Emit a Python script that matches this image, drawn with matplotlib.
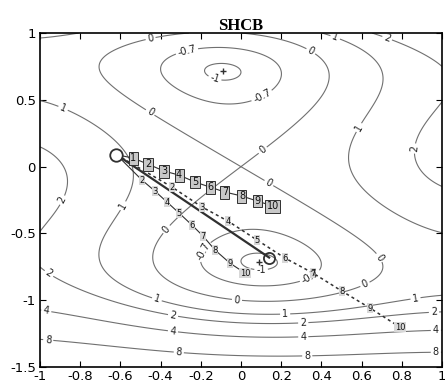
import numpy as np
from matplotlib import pyplot as plt

# contour levels and where their labels sit
levels = [-1, -0.7, 0, 1, 2, 4, 8]
label_pos = [(-0.45, 0.96), (-0.27, 0.87), (-0.13, 0.66), (0.35, 0.87), (0.46, 0.93),
             (0.72, 0.93), (0.10, 0.54), (-0.89, 0.42), (-0.45, 0.41), (0.11, 0.12),
             (0.14, -0.12), (0.59, 0.29), (0.84, 0.14), (-0.89, -0.25), (-0.59, -0.29),
             (-0.37, -0.47), (0.69, -0.68), (0.62, -0.89), (-0.02, -1.0), (0.22, -1.11),
             (0.31, -1.17), (0.87, -1.0), (0.96, -1.07), (0.31, -1.27), (0.97, -1.22),
             (-0.96, -0.81), (-0.42, -1.0), (-0.97, -1.09), (-0.34, -1.13), (-0.34, -1.25),
             (-0.96, -1.31), (-0.31, -1.40), (0.33, -1.43), (0.97, -1.39), (0.10, -0.76),
             (-0.19, -0.63), (0.33, -0.78)]

# start point and minima
start = (-0.62, 0.09)
end_pt = (0.14, -0.68)
minima_x = [-0.0898, 0.0898]
minima_y = [0.7126, -0.7126]

# numbered runs
sq_x = [-0.537, -0.463, -0.383, -0.308, -0.229, -0.154, -0.080, 0.005, 0.080, 0.159]
sq_y = [0.064, 0.019, -0.033, -0.063, -0.115, -0.153, -0.190, -0.220, -0.257, -0.295]
st_x = [-0.493, -0.428, -0.368, -0.308, -0.244, -0.189, -0.129, -0.055, 0.020]
st_y = [-0.100, -0.183, -0.265, -0.347, -0.437, -0.519, -0.624, -0.722, -0.796]
da_x = [-0.343, -0.194, -0.065, 0.080, 0.219, 0.358, 0.502, 0.642, 0.791]
da_y = [-0.153, -0.302, -0.407, -0.549, -0.684, -0.796, -0.931, -1.058, -1.201]


def shcb(x, y):
    return (4 - 2.1 * x**2 + x**4 / 3) * x**2 + x * y + (-4 + 4 * y**2) * y**2


fig = plt.figure(figsize=(4.45, 3.84), dpi=100)
ax = fig.add_axes([0.09, 0.044, 0.903, 0.87])

gx, gy = np.meshgrid(np.linspace(-1, 1, 401), np.linspace(-1.5, 1, 501))
cs = ax.contour(gx, gy, shcb(gx, gy), levels=levels, colors='#707070', linewidths=0.8,
                negative_linestyles='solid')
ax.clabel(cs, fmt='%g', fontsize=7, inline=True, inline_spacing=2, manual=label_pos,
          colors='#202020')

box_big = dict(boxstyle='square,pad=0.15', fc='#c8c8c8', ec='#303030', lw=0.7)
box_small = dict(boxstyle='square,pad=0.05', fc='#d8d8d8', ec='none')

# thick straight run to the minimum
ax.plot([start[0], end_pt[0]], [start[1], end_pt[1]], color='#303030', lw=1.6)
# dashed run
ax.plot([start[0]] + da_x, [start[1]] + da_y, color='#303030', lw=1.1, ls=(0, (2, 2)))
# steep run
ax.plot([start[0]] + st_x, [start[1]] + st_y, color='#303030', lw=0.8)
# squares run
ax.plot([start[0]] + sq_x, [start[1]] + sq_y, color='#303030', lw=0.8)

for i in range(len(sq_x)):
    ax.text(sq_x[i], sq_y[i], str(i + 1), fontsize=7, ha='center', va='center',
            bbox=box_big, color='#101010')
for i in range(len(st_x)):
    ax.text(st_x[i], st_y[i], str(i + 2), fontsize=6, ha='center', va='center',
            bbox=box_small, color='#101010')
for i in range(len(da_x)):
    ax.text(da_x[i], da_y[i], str(i + 2), fontsize=6, ha='center', va='center',
            bbox=box_small, color='#101010')

ax.plot(*start, 'o', mfc='white', mec='#303030', ms=9, mew=1.3)
ax.plot(*end_pt, 'o', mfc='none', mec='#303030', ms=8, mew=1.3)
ax.plot(minima_x, minima_y, '+', color='#303030', ms=5, mew=1)

ax.set_xlim(-1, 1)
ax.set_ylim(-1.5, 1)
ax.set_xticks([-1, -0.8, -0.6, -0.4, -0.2, 0, 0.2, 0.4, 0.6, 0.8, 1])
ax.set_xticklabels(['-1', '-0.8', '-0.6', '-0.4', '-0.2', '0', '0.2', '0.4', '0.6', '0.8', '1'])
ax.set_yticks([-1.5, -1, -0.5, 0, 0.5, 1])
ax.set_yticklabels(['-1.5', '-1', '-0.5', '0', '0.5', '1'])
ax.tick_params(direction='in', top=True, right=True, labelsize=9.5, length=4)
ax.tick_params(axis='x', pad=2)
ax.tick_params(axis='y', pad=3)
for s in ax.spines.values():
    s.set_linewidth(1.2)
ax.set_title('SHCB', fontfamily='Liberation Serif', fontweight='bold', fontsize=12, pad=2)

fig.savefig('out.png', dpi=100)
